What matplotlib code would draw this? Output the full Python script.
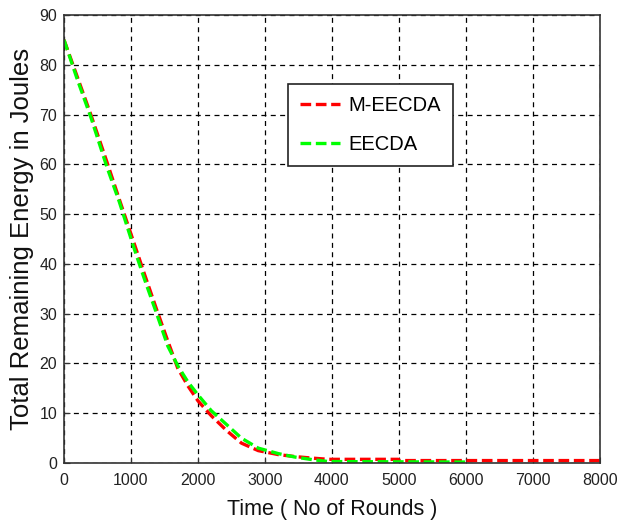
import matplotlib
matplotlib.use("Agg")
import matplotlib.pyplot as plt

plt.rcParams['font.family'] = ['Liberation Sans', 'DejaVu Sans']

# Data
x_meecda = [0, 200, 400, 640, 825, 1050, 1200, 1384, 1550, 1700, 1850, 2000,
            2200, 2430, 2650, 2900, 3200, 3450, 3700, 3950, 4990, 5000, 8000]
y_meecda = [85, 77.5, 70, 60.5, 53, 44, 38, 30.8, 24.5, 19, 15.5, 12.5,
            9.5, 6.5, 4.0, 2.5, 1.7, 1.3, 1.0, 0.75, 0.75, 0.5, 0.5]

x_eecda = [0, 200, 400, 640, 825, 1050, 1200, 1384, 1550, 1700, 1850, 2000,
           2200, 2430, 2650, 2900, 3200, 3450, 3700, 3950, 6000]
y_eecda = [85, 77, 69.5, 59.5, 52.5, 43, 37, 30, 23.5, 19.5, 16.3, 13.7,
           10.5, 7.7, 5.0, 3.0, 1.9, 1.2, 0.7, 0.3, 0.2]

x_ticks = [0, 1000, 2000, 3000, 4000, 5000, 6000, 7000, 8000]
y_ticks = [0, 10, 20, 30, 40, 50, 60, 70, 80, 90]

fig = plt.figure(figsize=(6.3, 5.28), dpi=100)
ax = fig.add_axes([0.1016, 0.123, 0.8504, 0.8486])

ax.plot(x_meecda, y_meecda, color='#ff0000', lw=2.4, dashes=(3.2, 1.4), label='M-EECDA')
ax.plot(x_eecda, y_eecda, color='#00ff00', lw=2.4, dashes=(3.2, 1.4), label='EECDA')

ax.set_xlim(0, 8000)
ax.set_ylim(0, 90)
ax.set_xticks(x_ticks)
ax.set_yticks(y_ticks)
ax.grid(True, color='black', linestyle=(0, (4, 3.5)), linewidth=0.9)
for s in ax.spines.values():
    s.set_color('#333333')
    s.set_linewidth(1.2)
ax.tick_params(direction='in', length=4, labelsize=11.5, colors='#333333', labelcolor='#222222')
ax.tick_params(axis='x', pad=7)
ax.tick_params(axis='y', pad=5)

ax.set_xlabel('Time ( No of Rounds )', fontsize=15.5, color='#111111', labelpad=8)
ax.set_ylabel('Total Remaining Energy in Joules', fontsize=18.5, color='#111111', labelpad=4)

leg = ax.legend(loc='upper left', bbox_to_anchor=(0.418, 0.846), borderaxespad=0,
                fontsize=14.5, frameon=True, fancybox=False, edgecolor='#222222',
                framealpha=1, handlelength=2.0, handletextpad=0.4,
                borderpad=0.6, labelspacing=1.0)
leg.get_frame().set_linewidth(1.2)

fig.savefig('out.png', dpi=100)
